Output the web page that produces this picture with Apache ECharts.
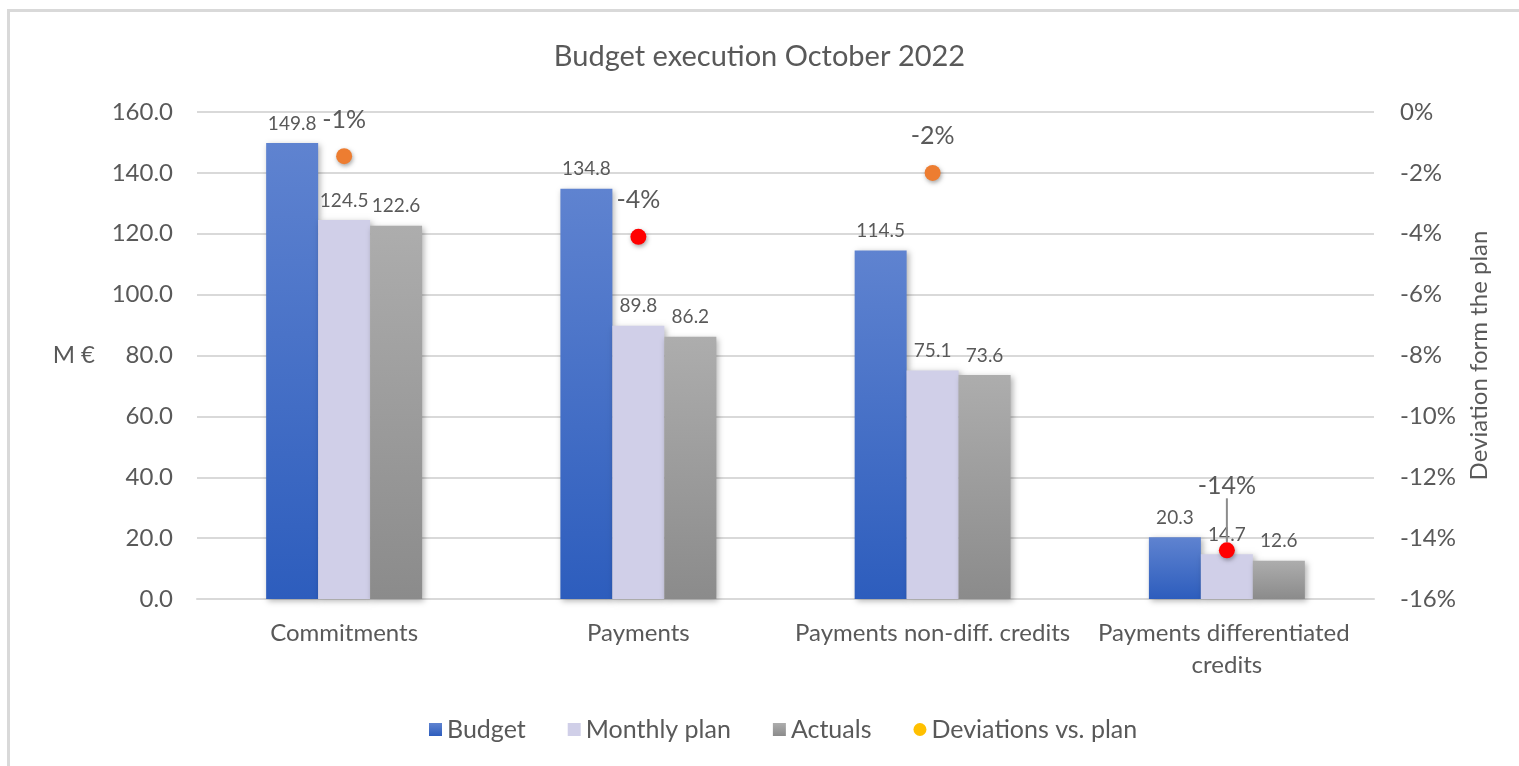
<!DOCTYPE html>
<html lang="en">
<head>
    <meta charset="UTF-8">
    <title>Budget execution October 2022</title>
    <script src="https://cdn.jsdelivr.net/npm/echarts@6/dist/echarts.min.js"></script>
    <style>
        body { margin: 0; background: #fff; overflow: hidden; }
        #frame { position: absolute; left: 7px; top: 9px; width: 1530px; height: 770px;
                 border-left: 3px solid #d9d9d9; border-top: 3px solid #d9d9d9; pointer-events: none; }
        #main { width: 1519px; height: 766px; }
    </style>
</head>
<body>
<div id="main"></div>
<div id="frame"></div>
<script type="text/javascript">
    // data
    var categories = ['Commitments', 'Payments', 'Payments non-diff. credits', 'Payments differentiated credits'];
    var budget = [149.8, 134.8, 114.5, 20.3];
    var monthlyPlan = [124.5, 89.8, 75.1, 14.7];
    var actuals = [122.6, 86.2, 73.6, 12.6];
    var deviations = [-1.45, -4.1, -2.0, -14.4];   // % vs plan
    var leftTicks = [0, 160, 20];
    var rightTicks = [-16, 0, 2];

    var txt = '#595959';
    var font = 'Lato';

    function grad(top, bottom) {
        return new echarts.graphic.LinearGradient(0, 0, 0, 1, [
            {offset: 0, color: top}, {offset: 1, color: bottom}
        ]);
    }
    var barShadow = {shadowBlur: 6, shadowColor: 'rgba(0,0,0,0.3)', shadowOffsetX: 2, shadowOffsetY: 2};
    var barLabel = {show: true, position: 'top', distance: 10, color: txt, fontSize: 19, fontFamily: font,
        formatter: function (p) { return p.value.toFixed(1); }};

    // only the last point has its label lifted, with a short leader line
    var devData = deviations.map(function (v, i) {
        return i === deviations.length - 1 ? {value: v, labelLine: {show: true}} : v;
    });

    var myChart = echarts.init(document.getElementById('main'));
    myChart.setOption({
        textStyle: {fontFamily: font, color: txt},
        title: {
            text: 'Budget execution October 2022', left: 'center', top: 37,
            textStyle: {fontSize: 29, fontWeight: 'normal', color: txt, fontFamily: font}
        },
        legend: {
            bottom: 19, left: 424, itemWidth: 13, itemHeight: 13, itemGap: 42,
            textStyle: {fontSize: 25, color: txt, fontFamily: font},
            data: [
                {name: 'Budget', icon: 'rect'},
                {name: 'Monthly plan', icon: 'rect'},
                {name: 'Actuals', icon: 'rect'},
                {name: 'Deviations vs. plan', icon: 'circle', itemStyle: {color: '#ffc000'}}
            ]
        },
        grid: {left: 197, right: 145, top: 112, bottom: 167},
        xAxis: {
            type: 'category', data: categories,
            axisLine: {lineStyle: {color: '#d9d9d9', width: 2}},
            axisTick: {show: false},
            axisLabel: {color: txt, fontSize: 24, margin: 18, interval: 0, width: 300, overflow: 'break', lineHeight: 32}
        },
        yAxis: [{
            type: 'value', min: leftTicks[0], max: leftTicks[1], interval: leftTicks[2],
            name: 'M €', nameLocation: 'middle', nameRotate: 0, nameGap: 102,
            nameTextStyle: {fontSize: 24, color: txt},
            axisLabel: {color: txt, fontSize: 24, margin: 24, formatter: function (v) { return v.toFixed(1); }},
            splitLine: {lineStyle: {color: '#d9d9d9', width: 2}},
            axisLine: {show: false}, axisTick: {show: false}
        }, {
            type: 'value', min: rightTicks[0], max: rightTicks[1], interval: rightTicks[2],
            name: 'Deviation form the plan', nameLocation: 'middle', nameRotate: 90, nameGap: 92,
            nameTextStyle: {fontSize: 24, color: txt},
            axisLabel: {color: txt, fontSize: 24, margin: 26, formatter: '{value}%'},
            splitLine: {show: false}, axisLine: {show: false}, axisTick: {show: false}
        }],
        series: [{
            name: 'Budget', type: 'bar', data: budget, barGap: '0%', barCategoryGap: '47%',
            itemStyle: Object.assign({color: grad('#5f83d0', '#2d5dbd')}, barShadow),
            label: barLabel
        }, {
            name: 'Monthly plan', type: 'bar', data: monthlyPlan,
            itemStyle: Object.assign({color: '#d0cfe8'}, barShadow),
            label: barLabel
        }, {
            name: 'Actuals', type: 'bar', data: actuals,
            itemStyle: Object.assign({color: grad('#adadad', '#8b8b8b')}, barShadow),
            label: barLabel
        }, {
            name: 'Deviations vs. plan', type: 'scatter', yAxisIndex: 1, data: devData,
            symbolSize: 16, z: 5,
            itemStyle: {
                opacity: 1,
                color: function (p) { return p.value < -3 ? '#ff0000' : '#ed7d31'; },
                shadowBlur: 4, shadowColor: 'rgba(0,0,0,0.35)', shadowOffsetX: 1, shadowOffsetY: 2
            },
            label: {
                show: true, position: 'top', distance: 16, color: txt, fontSize: 25,
                formatter: function (p) { return p.value.toFixed(0) + '%'; }
            },
            labelLine: {show: false, lineStyle: {color: '#8c8c8c', width: 2}},
            labelLayout: function (p) {
                if (p.dataIndex === 3) return {dy: -28};
            }
        }]
    });
</script>
</body>
</html>
